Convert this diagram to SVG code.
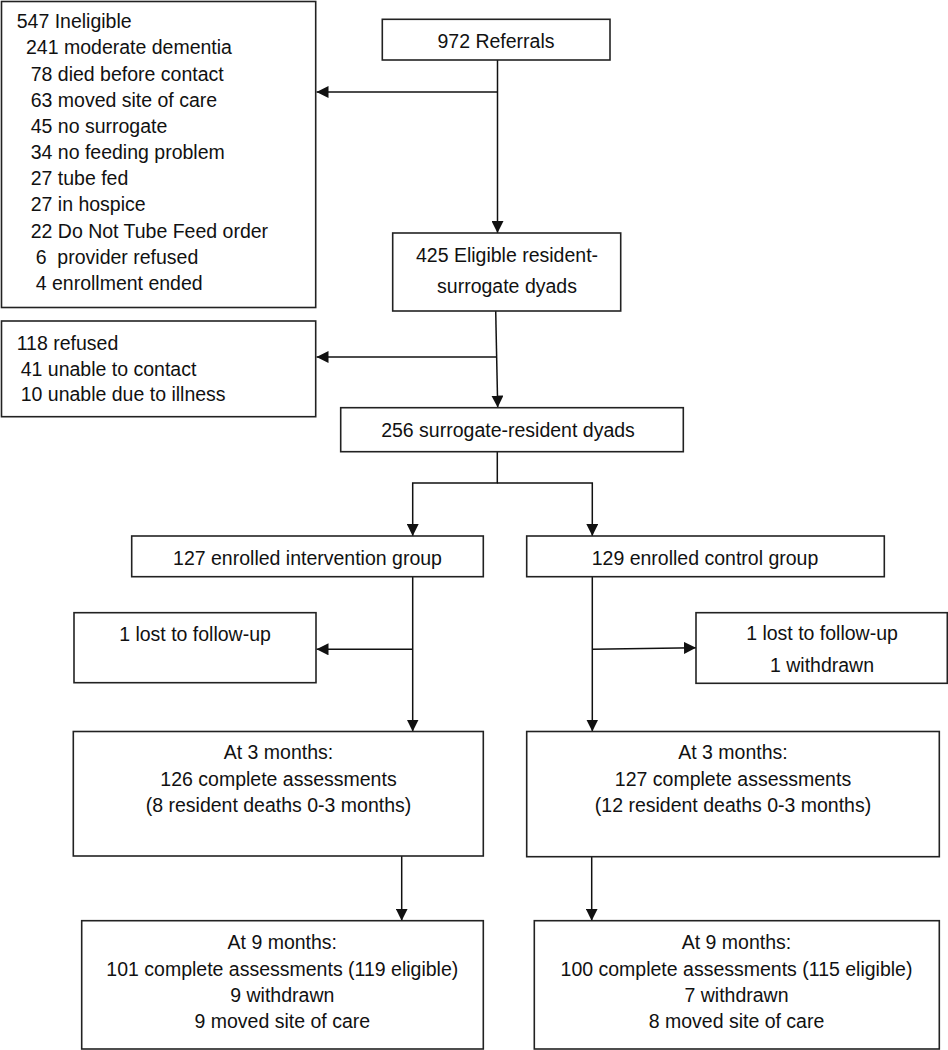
<svg xmlns="http://www.w3.org/2000/svg" width="948" height="1050" viewBox="0 0 948 1050">
<style>
.box{fill:#fff;stroke:#222;stroke-width:1.6}
.t{font-family:"Liberation Sans",Arial,sans-serif;font-size:19.5px;fill:#111;white-space:pre}
.c{text-anchor:middle}
.ln{stroke:#111;stroke-width:1.5;fill:none}
</style>
<defs>
<marker id="ah" markerUnits="userSpaceOnUse" markerWidth="12" markerHeight="12" viewBox="0 0 11 11" refX="11" refY="5.5" orient="auto">
<path d="M0,0 L11,5.5 L0,11 z" fill="#111"/>
</marker>
</defs>
<rect width="948" height="1050" fill="#fff"/>
<g id="connectors">
<line class="ln" x1="497.5" y1="60" x2="497.5" y2="233" marker-end="url(#ah)"/>
<line class="ln" x1="497.5" y1="92" x2="316.5" y2="92" marker-end="url(#ah)"/>
<line class="ln" x1="495.7" y1="311" x2="497.7" y2="407.5" marker-end="url(#ah)"/>
<line class="ln" x1="496.5" y1="357" x2="316.5" y2="357" marker-end="url(#ah)"/>
<polyline class="ln" points="497.3,452 497.3,483 412.7,483 412.7,536" marker-end="url(#ah)"/>
<polyline class="ln" points="497.3,483 592.3,483 592.3,536" marker-end="url(#ah)"/>
<line class="ln" x1="412.7" y1="577" x2="412.7" y2="731.5" marker-end="url(#ah)"/>
<line class="ln" x1="412.7" y1="649.3" x2="316.5" y2="649.3" marker-end="url(#ah)"/>
<line class="ln" x1="592.3" y1="577" x2="592.3" y2="731.5" marker-end="url(#ah)"/>
<line class="ln" x1="592.3" y1="649.3" x2="696" y2="647.7" marker-end="url(#ah)"/>
<line class="ln" x1="401.7" y1="856" x2="401.7" y2="920.7" marker-end="url(#ah)"/>
<line class="ln" x1="591.7" y1="856.7" x2="591.7" y2="920.7" marker-end="url(#ah)"/>
</g>
<g id="ineligible">
<rect class="box" x="1.5" y="1.5" width="314.2" height="306"/>
<text class="t" x="16.7" y="28">547 Ineligible</text>
<text class="t" x="26" y="54">241 moderate dementia</text>
<text class="t" x="30.7" y="81">78 died before contact</text>
<text class="t" x="30.7" y="107">63 moved site of care</text>
<text class="t" x="30.7" y="133">45 no surrogate</text>
<text class="t" x="30.7" y="159">34 no feeding problem</text>
<text class="t" x="30.7" y="185">27 tube fed</text>
<text class="t" x="30.7" y="211">27 in hospice</text>
<text class="t" x="30.7" y="238">22 Do Not Tube Feed order</text>
<text class="t" x="35.7" y="264">6  provider refused</text>
<text class="t" x="35.7" y="290">4 enrollment ended</text>
</g>
<g id="referrals">
<rect class="box" x="382.3" y="19.3" width="227.7" height="40.7"/>
<text class="t c" x="496" y="48">972 Referrals</text>
</g>
<g id="eligible">
<rect class="box" x="392.7" y="233" width="228" height="78"/>
<text class="t c" x="507" y="262">425 Eligible resident-</text>
<text class="t c" x="507" y="293">surrogate dyads</text>
</g>
<g id="refused">
<rect class="box" x="1.5" y="321" width="314.2" height="95.7"/>
<text class="t" x="16.7" y="350">118 refused</text>
<text class="t" x="20.7" y="375.7">41 unable to contact</text>
<text class="t" x="20.7" y="401">10 unable due to illness</text>
</g>
<g id="dyads">
<rect class="box" x="340.7" y="407.7" width="342.6" height="44"/>
<text class="t c" x="508" y="436.7">256 surrogate-resident dyads</text>
</g>
<g id="intervention">
<rect class="box" x="131.7" y="536" width="351.6" height="40.7"/>
<text class="t c" x="307.5" y="565">127 enrolled intervention group</text>
</g>
<g id="control">
<rect class="box" x="526.7" y="536" width="357.6" height="40.7"/>
<text class="t c" x="705" y="564.5">129 enrolled control group</text>
</g>
<g id="lost-intervention">
<rect class="box" x="74" y="612.7" width="242" height="70"/>
<text class="t c" x="195" y="641">1 lost to follow-up</text>
</g>
<g id="lost-control">
<rect class="box" x="696" y="612.7" width="251.3" height="70.6"/>
<text class="t c" x="822" y="640">1 lost to follow-up</text>
<text class="t c" x="822" y="671.7">1 withdrawn</text>
</g>
<g id="int-3mo">
<rect class="box" x="73.3" y="731.5" width="410" height="124.5"/>
<text class="t c" x="278.5" y="759.3">At 3 months:</text>
<text class="t c" x="278.5" y="785.7">126 complete assessments</text>
<text class="t c" x="278.5" y="811.7">(8 resident deaths 0-3 months)</text>
</g>
<g id="ctl-3mo">
<rect class="box" x="526.7" y="731.5" width="412.6" height="125.2"/>
<text class="t c" x="733" y="759.3">At 3 months:</text>
<text class="t c" x="733" y="785.7">127 complete assessments</text>
<text class="t c" x="733" y="811.7">(12 resident deaths 0-3 months)</text>
</g>
<g id="int-9mo">
<rect class="box" x="81.7" y="920.7" width="401.6" height="128.3"/>
<text class="t c" x="282.3" y="949.3">At 9 months:</text>
<text class="t c" x="282.3" y="976">101 complete assessments (119 eligible)</text>
<text class="t c" x="282.3" y="1002.3">9 withdrawn</text>
<text class="t c" x="282.3" y="1028.3">9 moved site of care</text>
</g>
<g id="ctl-9mo">
<rect class="box" x="534.3" y="920.7" width="405" height="128.3"/>
<text class="t c" x="736.5" y="949.3">At 9 months:</text>
<text class="t c" x="736.5" y="976">100 complete assessments (115 eligible)</text>
<text class="t c" x="736.5" y="1002.3">7 withdrawn</text>
<text class="t c" x="736.5" y="1028.3">8 moved site of care</text>
</g>
</svg>
